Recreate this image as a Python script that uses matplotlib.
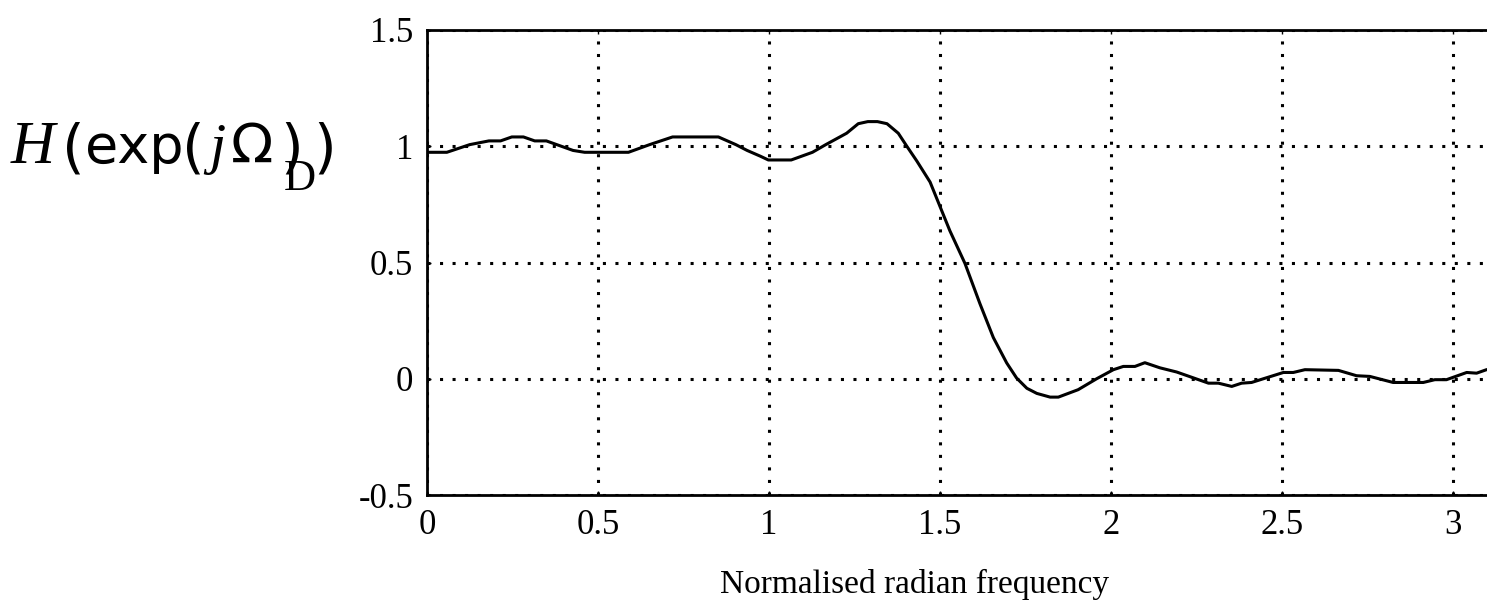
import numpy as np
import matplotlib
matplotlib.use("Agg")
import matplotlib.pyplot as plt

# ---- data ----
freq = [0.000, 0.058, 0.125, 0.181, 0.215, 0.248, 0.282, 0.315, 0.349, 0.427,
        0.461, 0.589, 0.651, 0.718, 0.852, 0.903, 0.936, 0.975, 0.998, 1.065,
        1.127, 1.166, 1.227, 1.261, 1.289, 1.317, 1.345, 1.378, 1.403, 1.432,
        1.471, 1.500, 1.529, 1.573, 1.617, 1.656, 1.695, 1.724, 1.754, 1.783,
        1.822, 1.846, 1.904, 1.958, 2.007, 2.036, 2.070, 2.099, 2.143, 2.192,
        2.285, 2.314, 2.353, 2.382, 2.411, 2.504, 2.533, 2.567, 2.665, 2.718,
        2.757, 2.825, 2.913, 2.947, 2.981, 3.040, 3.069, 3.098, 3.130]
mag = [0.974, 0.974, 1.007, 1.023, 1.023, 1.040, 1.040, 1.023, 1.023, 0.982,
       0.974, 0.974, 1.007, 1.040, 1.040, 1.007, 0.982, 0.957, 0.941, 0.941,
       0.974, 1.007, 1.056, 1.097, 1.106, 1.106, 1.097, 1.056, 1.000, 0.937,
       0.846, 0.741, 0.636, 0.496, 0.322, 0.177, 0.068, 0.003, -0.041, -0.063,
       -0.079, -0.079, -0.047, 0.000, 0.039, 0.053, 0.053, 0.069, 0.047, 0.029,
       -0.019, -0.019, -0.033, -0.019, -0.016, 0.027, 0.027, 0.039, 0.036, 0.013,
       0.010, -0.016, -0.016, -0.004, -0.004, 0.027, 0.024, 0.039, 0.045]
xticks = [0, 0.5, 1, 1.5, 2, 2.5, 3]
xticklabels = ["0", "0.5", "1", "1.5", "2", "2.5", "3"]
yticks = [-0.5, 0, 0.5, 1, 1.5]
yticklabels = ["-0.5", "0", "0.5", "1", "1.5"]
xlabel = "Normalised radian frequency"

W, H = 1487, 604
fig = plt.figure(figsize=(W / 100, H / 100), dpi=100)

left_px, top_px, bot_px = 427, 30, 495
px_per_unit = 342
xmax = np.pi
ax = fig.add_axes([left_px / W, 1 - bot_px / H,
                   xmax * px_per_unit / W, (bot_px - top_px) / H])
ax.plot(freq, mag, color="black", linewidth=2.2, clip_on=True)
ax.set_xlim(0, xmax)
ax.set_ylim(-0.5, 1.5)
ax.set_xticks(xticks)
ax.set_xticklabels(xticklabels)
ax.set_yticks(yticks)
ax.set_yticklabels(yticklabels)
ax.grid(True, color="black", linewidth=2.2, linestyle=(0, (1.0, 3.1)))
for s in ax.spines.values():
    s.set_linewidth(2.0)
    s.set_color("black")
ax.tick_params(direction="in", length=3, width=1, top=True, right=True,
               labelsize=25, pad=10)
for lab in ax.get_xticklabels() + ax.get_yticklabels():
    lab.set_fontfamily("Liberation Serif")

fig.text(915 / W, 1 - 593 / H, xlabel, family="Liberation Serif",
         fontsize=24, ha="center", va="baseline")

# composite y label H(exp(jΩ_D))
def ptxt(x, y, s, **kw):
    fig.text(x / W, 1 - y / H, s, ha="left", va="baseline", **kw)

base = 163
sans = "DejaVu Sans"
ptxt(11, base, "H", family="Liberation Serif", style="italic", fontsize=44)
ptxt(62, base + 3, "(", family=sans, fontsize=42)
ptxt(85, base, "exp", family=sans, fontsize=39)
ptxt(182, base + 3, "(", family=sans, fontsize=42)
ptxt(209, base, "j", family="Liberation Serif", style="italic", fontsize=42)
ptxt(231, base, "Ω", family=sans, fontsize=40)
ptxt(280, base + 3, ")", family=sans, fontsize=42)
ptxt(284, 190, "D", family="Liberation Serif", fontsize=32)
ptxt(313, base + 3, ")", family=sans, fontsize=42)

fig.savefig("out.png", dpi=100)
